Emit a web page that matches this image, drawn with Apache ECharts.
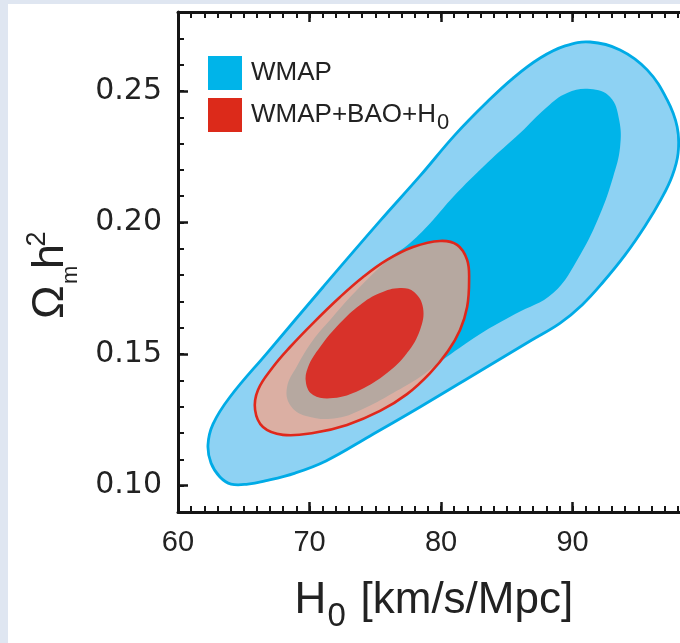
<!DOCTYPE html>
<html><head><meta charset="utf-8">
<script src="https://cdn.jsdelivr.net/npm/echarts@6/dist/echarts.min.js"></script>
<style>html,body{margin:0;padding:0;background:#fff}#c{width:680px;height:643px}</style>
</head><body><div id="c"></div><script>
// ---- data (H0 [km/s/Mpc], Omega_m h^2) ----
const xTickLabels = [60, 70, 80, 90];
const yTickLabels = [0.10, 0.15, 0.20, 0.25];
const seriesNames = ['WMAP', 'WMAP+BAO+H0'];

// WMAP 95% contour (outer)
const wmap95 = [
  [64.03,0.1006],[65.32,0.1006],[66.62,0.1018],[68.90,0.1048],[71.25,0.1094],[74.60,0.1189],
  [78.40,0.1299],[82.97,0.1436],[86.77,0.1550],[89.05,0.1618],[90.72,0.1687],[92.32,0.1774],
  [93.99,0.1877],[95.51,0.1987],[96.73,0.2089],[97.57,0.2177],[98.02,0.2264],[97.95,0.2363],
  [97.19,0.2466],[95.67,0.2580],[93.61,0.2656],[91.33,0.2686],[89.43,0.2671],[87.53,0.2625],
  [85.48,0.2549],[83.50,0.2458],[81.06,0.2333],[78.40,0.2177],[75.36,0.2006],[71.03,0.1755],
  [66.77,0.1504],[63.95,0.1337],[62.66,0.1234],[62.28,0.1155],[62.51,0.1086],[63.19,0.1033]
];
// WMAP 68% contour (inner)
const wmap68 = [
  [68.29,0.1375],[68.52,0.1307],[69.73,0.1265],[72.09,0.1257],[74.37,0.1299],[76.35,0.1352],
  [78.40,0.1413],[79.92,0.1470],[82.97,0.1576],[85.63,0.1652],[88.52,0.1732],[90.57,0.1877],
  [92.09,0.2032],[93.08,0.2173],[93.61,0.2287],[93.54,0.2390],[92.85,0.2477],[91.33,0.2507],
  [89.58,0.2492],[88.06,0.2439],[86.01,0.2340],[83.50,0.2226],[80.91,0.2097],[79.39,0.2010],
  [77.64,0.1922],[76.12,0.1865],[73.46,0.1736],[71.56,0.1630],[70.27,0.1554],[69.05,0.1455]
];
// WMAP+BAO+H0 95% contour
const comb95 = [
  [75.89,0.1858],[77.87,0.1907],[79.92,0.1930],[81.22,0.1915],[81.98,0.1858],[82.13,0.1782],
  [81.98,0.1679],[81.44,0.1592],[80.53,0.1512],[79.16,0.1428],[77.41,0.1348],[75.36,0.1284],
  [72.85,0.1231],[70.27,0.1200],[67.98,0.1193],[66.46,0.1223],[65.86,0.1288],[66.08,0.1364],
  [67.22,0.1451],[68.52,0.1527],[70.27,0.1618],[72.32,0.1717],[74.07,0.1793]
];
// WMAP+BAO+H0 68% contour
const comb68 = [
  [76.88,0.1751],[77.95,0.1736],[78.63,0.1675],[78.40,0.1592],[77.41,0.1504],[75.89,0.1428],
  [73.84,0.1364],[71.79,0.1333],[70.27,0.1345],[69.73,0.1390],[69.89,0.1451],[70.80,0.1527],
  [72.32,0.1618],[73.84,0.1687],[75.36,0.1732]
];

const FONT = '"Liberation Sans", Arial, Helvetica, sans-serif';
const INK = '#151515';

function polySeries(name, pts, fill, stroke, lw, z) {
  return {
    type: 'custom', name: name, coordinateSystem: 'cartesian2d',
    xAxisIndex: 0, yAxisIndex: 0, silent: true, z: z,
    data: pts,
    itemStyle: { color: fill },
    renderItem: function (params, api) {
      if (params.dataIndex !== 0) return null;
      const p = pts.map(function (d) { return api.coord(d); });
      return {
        type: 'polygon',
        shape: { points: p, smooth: 0.4 },
        style: { fill: fill, stroke: stroke || null, lineWidth: lw || 0 }
      };
    }
  };
}

function xAx(pos, major) {
  return {
    type: 'value', position: pos, min: 60, max: 99, interval: major ? 10 : 1,
    axisLine: { show: major, onZero: false, lineStyle: { color: INK, width: 3 } },
    axisTick: { show: true, inside: true, length: major ? 10 : 6, lineStyle: { color: INK, width: major ? 2.5 : 2 } },
    axisLabel: {
      show: major && pos === 'bottom', margin: 16, fontSize: 29, color: '#222', fontFamily: FONT,
      showMaxLabel: false,
      formatter: function (v) { return xTickLabels.indexOf(v) >= 0 ? String(v) : ''; }
    },
    splitLine: { show: false }
  };
}
function yAx(pos, major) {
  const a = {
    type: 'value', position: pos, min: 0.09, max: 0.28, interval: 0.01,
    axisLine: { show: major, onZero: false, lineStyle: { color: INK, width: 3 } },
    axisTick: { show: true, inside: true, length: major ? 10 : 6, lineStyle: { color: INK, width: major ? 2.5 : 2 } },
    axisLabel: {
      show: major && pos === 'left', margin: 16, fontSize: 30, color: '#222', fontFamily: '"DejaVu Sans", sans-serif',
      formatter: function (v) { return v.toFixed(2); }
    },
    splitLine: { show: false }
  };
  if (major) { a.axisTick.customValues = yTickLabels; a.axisLabel.customValues = yTickLabels; }
  return a;
}

function txt(x, y, s, size, rot) {
  return { type: 'text', x: x, y: y, rotation: rot || 0,
    style: { text: s, font: size + 'px ' + FONT, fill: '#222', textAlign: 'left', textVerticalAlign: 'middle', align: 'left', verticalAlign: 'middle' } };
}

const chart = echarts.init(document.getElementById('c'), null, { renderer: 'canvas' });
chart.setOption({
  backgroundColor: '#ffffff',
  animation: false,
  grid: { left: 178, right: -11, top: 12, bottom: 131, containLabel: false, outerBoundsMode: 'none' },
  xAxis: [xAx('bottom', true), xAx('bottom', false), xAx('top', true), xAx('top', false)],
  yAxis: [yAx('left', true), yAx('left', false), yAx('right', true), yAx('right', false)],
  legend: {
    orient: 'vertical', left: 203, top: 51, itemWidth: 34, itemHeight: 34, itemGap: 6,
    icon: 'rect', selectedMode: false,
    data: [
      { name: seriesNames[0], itemStyle: { color: '#00b4e9', borderWidth: 0 } },
      { name: seriesNames[1], itemStyle: { color: '#dc2a1a', borderWidth: 0 } }
    ],
    formatter: function (n) { return n === seriesNames[1] ? '{a|WMAP+BAO+H}{s|0}' : '{a|WMAP}'; },
    textStyle: {
      padding: [0, 0, 0, 4],
      rich: {
        a: { fontSize: 26, lineHeight: 26, fontFamily: FONT, color: '#222', verticalAlign: 'middle' },
        s: { fontSize: 22, lineHeight: 22, fontFamily: FONT, color: '#222', verticalAlign: 'middle', padding: [16, 0, 0, 1] }
      }
    }
  },
  graphic: [
    { type: 'rect', z: -10, shape: { x: 0, y: 0, width: 680, height: 4 }, style: { fill: '#dfe6f1' } },
    { type: 'rect', z: -10, shape: { x: 0, y: 0, width: 8, height: 643 }, style: { fill: '#dfe6f1' } },
    txt(294.5, 601, 'H', 44), txt(327.5, 617, '0', 33), txt(360.5, 601, '[km/s/Mpc]', 44),
    txt(51, 319, 'Ω', 45, Math.PI / 2),
    txt(70.5, 284, 'm', 22, Math.PI / 2),
    txt(51, 269, 'h', 45, Math.PI / 2),
    txt(38, 246.5, '2', 27, Math.PI / 2)
  ],
  series: [
    polySeries(seriesNames[0], wmap95, '#8ed2f3', '#00abe6', 2.8, 1),
    polySeries(seriesNames[0], wmap68, '#00b4e9', null, 0, 2),
    polySeries(seriesNames[1], comb95, 'rgba(246,163,135,0.74)', '#e0281c', 2.6, 3),
    polySeries(seriesNames[1], comb68, '#d8322a', null, 0, 4)
  ]
});
</script></body></html>
